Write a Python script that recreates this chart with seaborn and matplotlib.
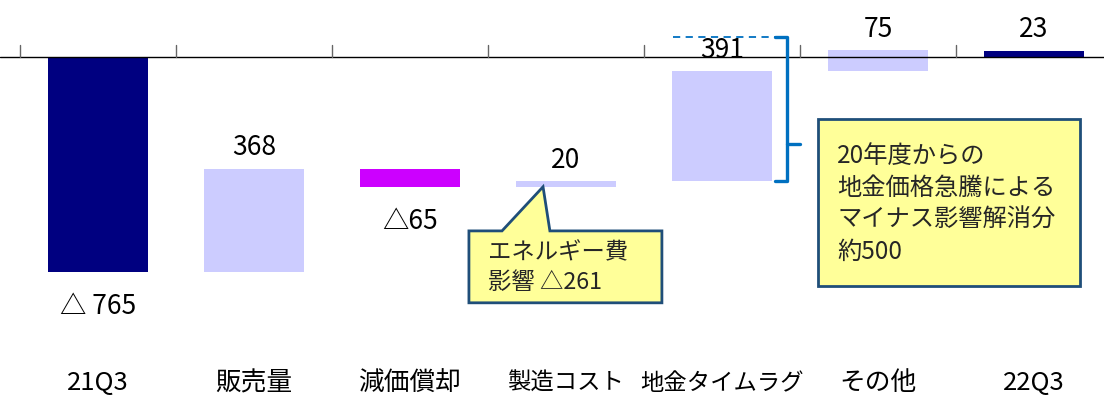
import re
import numpy as np
import pandas as pd
import matplotlib
matplotlib.use("Agg")
import matplotlib.pyplot as plt
import seaborn as sns
from matplotlib.patches import Polygon

sns.set_theme(style="white")
plt.rcParams['font.family'] = ['Noto Sans CJK JP', 'DejaVu Sans']

# ---- data ----
categories = ["21Q3", "販売量", "減価償却", "製造コスト", "地金タイムラグ", "その他", "22Q3"]
changes = [-765, 368, -65, 20, 391, 75, 23]          # 21Q3 / 22Q3 are totals
is_total = [True, False, False, False, False, False, True]
value_labels = ["△ 765", "368", "△65", "20", "391", "75", "23"]
label_above = [False, True, False, True, True, True, True]
colors = ["#000080", "#CCCCFF", "#CC00FF", "#CCCCFF", "#CCCCFF", "#CCCCFF", "#000080"]
energy_note = "エネルギー費\n影響 △261"
gold_note = "20年度からの\n地金価格急騰による\nマイナス影響解消分\n約500"
gold_effect = 513   # brace span (約500)

# waterfall bottoms / heights
bottoms, heights = [], []
running = 0
for v, tot in zip(changes, is_total):
    if tot:
        bottoms.append(0)
        heights.append(v)
        running = v
    else:
        bottoms.append(running)
        heights.append(v)
        running += v
df = pd.DataFrame({"cat": categories, "h": heights, "b": bottoms})

fig = plt.figure(figsize=(11.04, 4.0), dpi=100)
ax = fig.add_axes([0, 0, 1, 1])
sns.barplot(data=df, x="cat", y="h", bottom=df["b"].values, width=0.64,
            color="#CCCCFF", ax=ax, linewidth=0, saturation=1)
for p, c in zip(ax.patches, colors):
    p.set_facecolor(c)
    p.set_edgecolor("none")

ax.set_xlim(-0.628, 6.449)
ax.set_ylim(-1221, 203)
ax.set_xticks([])
ax.set_yticks([])
for s in ax.spines.values():
    s.set_visible(False)
ax.set_xlabel("")
ax.set_ylabel("")

# zero axis line with boundary ticks
ax.axhline(0, color="black", lw=1.0, zorder=3)
for xb in np.arange(-0.5, 6.5, 1.0):
    ax.plot([xb, xb], [0, 43], color="#666666", lw=1.0, zorder=3)

# value labels
for i, (lab, above) in enumerate(zip(value_labels, label_above)):
    top = max(bottoms[i], bottoms[i] + heights[i])
    bot = min(bottoms[i], bottoms[i] + heights[i])
    if above:
        ax.text(i, top + 75, lab, ha="center", va="center", fontsize=19, color="black")
    else:
        ax.text(i, bot - 122, lab, ha="center", va="center", fontsize=19, color="black")

# category labels (katakana labels drawn narrower, like the proportional kana of the original)
kana = re.compile(r"[\u30A0-\u30FF]")
for i, c in enumerate(categories):
    fs = 16.8 if kana.search(c) else 18.5
    ax.text(i, -1162, c, ha="center", va="center", fontsize=fs, color="black")

# energy callout
tip_y = bottoms[3]
callout = Polygon([(2.378, -619), (2.590, -619), (2.853, tip_y), (2.897, -619),
                   (3.615, -619), (3.615, -875), (2.378, -875)],
                  closed=True, facecolor="#FFFF99", edgecolor="#1F4E79", lw=2, zorder=4)
ax.add_patch(callout)
ax.text(2.50, -749, energy_note, ha="left", va="center", fontsize=16.8,
        linespacing=1.4, zorder=5)

# gold note box
box2 = Polygon([(4.615, -221), (6.295, -221), (6.295, -815), (4.615, -815)],
               closed=True, facecolor="#FFFF99", edgecolor="#1F4E79", lw=2, zorder=4)
ax.add_patch(box2)
ax.text(4.74, -523, gold_note, ha="left", va="center", fontsize=17.5,
        linespacing=1.3, zorder=5)

# brace and dashed reference
base = bottoms[4]
top_level = base + gold_effect
ax.plot([3.686, 4.34], [top_level, top_level], color="#0070C0", lw=1.3,
        ls=(0, (4, 3)), zorder=3)
mid = top_level - 0.74 * (top_level - base)
ax.plot([4.34, 4.417, 4.417, 4.34], [top_level, top_level, base, base],
        color="#0070C0", lw=2.4, solid_joinstyle="round", zorder=3)
ax.plot([4.417, 4.50], [mid, mid], color="#0070C0", lw=2.4, zorder=3)

fig.savefig("out.png", dpi=100)
